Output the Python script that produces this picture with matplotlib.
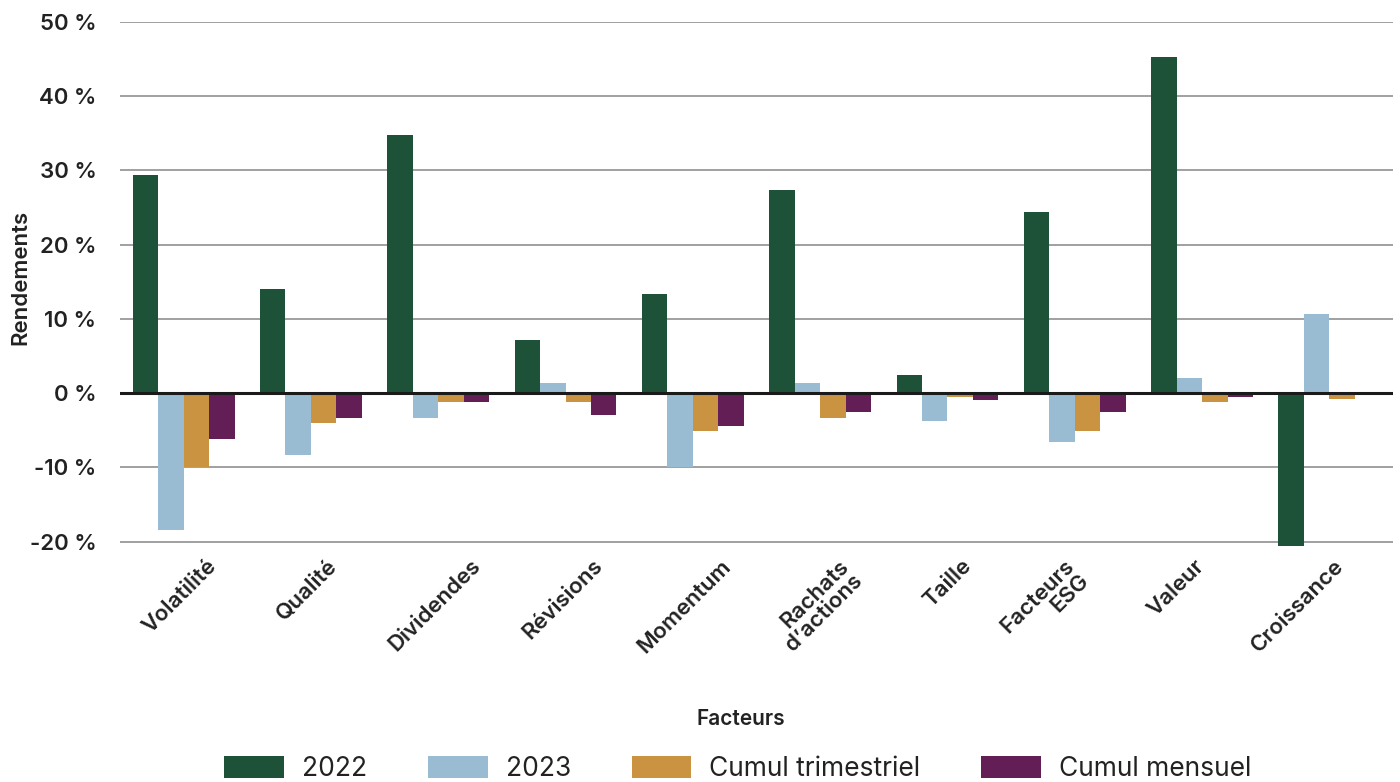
import matplotlib
matplotlib.use("Agg")
import matplotlib.pyplot as plt
import matplotlib.transforms as mtransforms
import numpy as np

categories = ["Volatilité", "Qualité", "Dividendes", "Révisions", "Momentum",
              "Rachats\nd’actions", "Taille", "Facteurs\nESG", "Valeur", "Croissance"]
series_names = ["2022", "2023", "Cumul trimestriel", "Cumul mensuel"]
v2022 = [29.4, 14.0, 34.8, 7.1, 13.3, 27.3, 2.4, 24.4, 45.2, -20.6]
v2023 = [-18.4, -8.4, -3.3, 1.3, -9.9, 1.3, -3.8, -6.6, 2.0, 10.7]
v_trim = [-10.0, -4.0, -1.2, -1.2, -5.1, -3.4, -0.5, -5.1, -1.2, -0.8]
v_mens = [-6.2, -3.4, -1.2, -3.0, -4.4, -2.6, -0.9, -2.6, -0.5, 0.2]
yticks = [-20, -10, 0, 10, 20, 30, 40, 50]
ytick_labels = ["-20 %", "-10 %", "0 %", "10 %", "20 %", "30 %", "40 %", "50 %"]

colors = ["#1d5238", "#9abcd3", "#c99342", "#631f55"]
text_color = "#222222"

plt.rcParams['font.family'] = ['Inter', 'DejaVu Sans']

fig = plt.figure(figsize=(14, 7.82), dpi=100)
ax = fig.add_axes([0.0857, 0.298, 0.9093, 0.6741])

x = np.arange(len(categories))
w = 0.2
all_series = [v2022, v2023, v_trim, v_mens]
for i, (vals, c, name) in enumerate(zip(all_series, colors, series_names)):
    ax.bar(x + (i - 1.5) * w, vals, width=w, color=c, label=name, zorder=3)

ax.set_xlim(-0.5, len(categories) - 0.5)
ax.set_ylim(-21, 50)
ax.set_yticks(yticks)
ax.set_yticklabels(ytick_labels, fontsize=16, fontweight='semibold', color=text_color)
ax.yaxis.grid(True, color="#999999", linewidth=1.3, zorder=0)
ax.axhline(0, color="#1a1a1a", linewidth=2.2, zorder=4)
for s in ax.spines.values():
    s.set_visible(False)
ax.tick_params(axis='both', length=0)
ax.tick_params(axis='y', pad=17)
ax.set_xticks(x)
ax.set_xticklabels(categories, rotation=45, ha='center', va='top',
                   fontsize=16, fontweight='semibold', color=text_color,
                   multialignment='right', linespacing=1.0)
ax.tick_params(axis='x', pad=5)
# small horizontal nudges of individual labels (pixels), as in the reference
label_shift = [-4, -4, -3, -3, -8, -3, 0, -30, -26, -32]
for lab, dx in zip(ax.get_xticklabels(), label_shift):
    lab.set_transform(lab.get_transform() +
                      mtransforms.ScaledTranslation(dx / 100, 0, fig.dpi_scale_trans))

ax.set_ylabel("Rendements", fontsize=16, fontweight='semibold', color=text_color)
ax.yaxis.set_label_coords(-0.078, 0.516)
ax.yaxis.label.set_va('center')
fig.text(0.529, 0.081, "Facteurs", ha='center', va='center', fontsize=15,
         fontweight='semibold', color=text_color)

leg = fig.legend(loc='lower center', bbox_to_anchor=(0.527, -0.031), ncol=4,
                 frameon=False, fontsize=19, handlelength=2.27, handleheight=0.9,
                 columnspacing=2.3, handletextpad=0.68)
for t in leg.get_texts():
    t.set_color(text_color)

fig.savefig("out.png", dpi=100)
